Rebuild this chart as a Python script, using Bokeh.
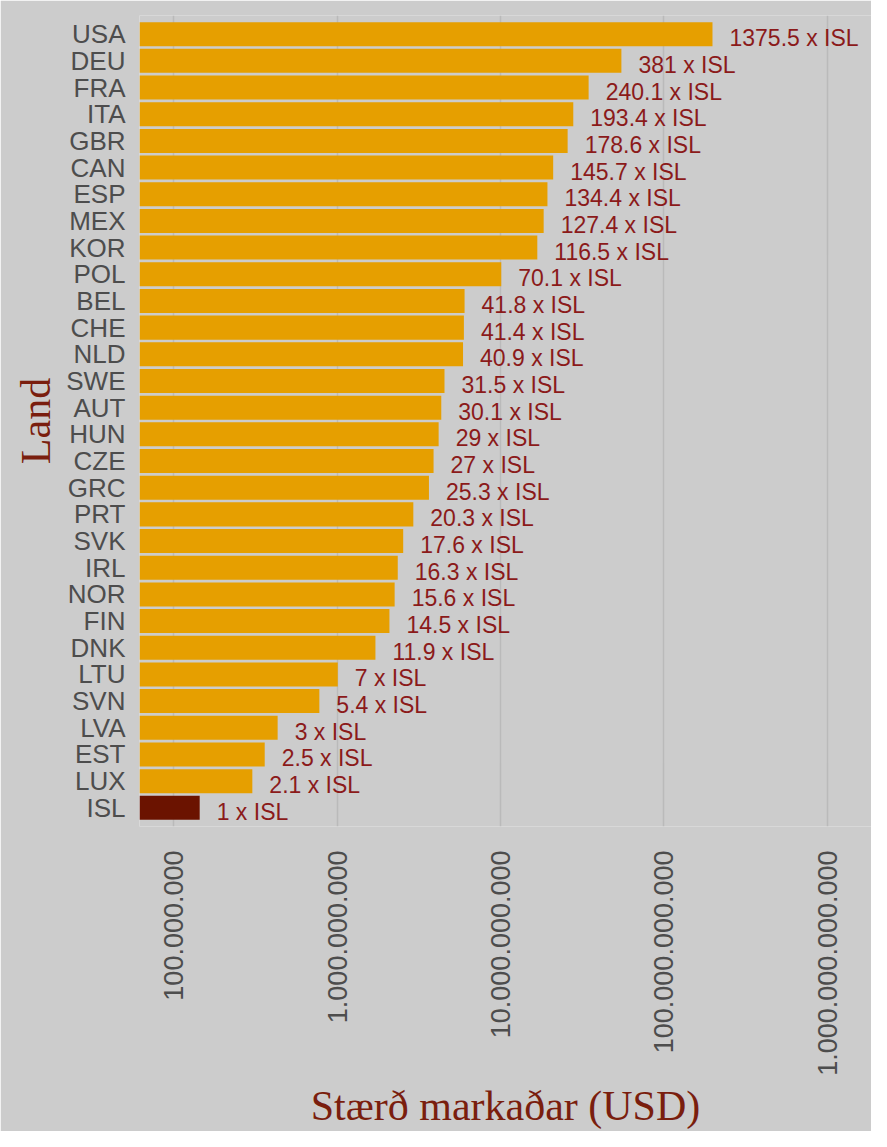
import math
from bokeh.plotting import figure
from bokeh.models import Range1d, FactorRange, ColumnDataSource, FixedTicker, CustomJSTickFormatter
from bokeh.core.properties import value
from bokeh.embed import file_html
from bokeh.resources import INLINE

# ---- data ----
countries = ["USA", "DEU", "FRA", "ITA", "GBR", "CAN", "ESP", "MEX", "KOR", "POL",
             "BEL", "CHE", "NLD", "SWE", "AUT", "HUN", "CZE", "GRC", "PRT", "SVK",
             "IRL", "NOR", "FIN", "DNK", "LTU", "SVN", "LVA", "EST", "LUX", "ISL"]
ratios = [1375.5, 381, 240.1, 193.4, 178.6, 145.7, 134.4, 127.4, 116.5, 70.1,
          41.8, 41.4, 40.9, 31.5, 30.1, 29, 27, 25.3, 20.3, 17.6,
          16.3, 15.6, 14.5, 11.9, 7, 5.4, 3, 2.5, 2.1, 1]
isl_market_usd = 1.44e8          # size of the Icelandic market (USD)
x_ticks = [1e8, 1e9, 1e10, 1e11, 1e12]

# ---- derived ----
market = [r * isl_market_usd for r in ratios]
labels = [("%g" % r) + " x ISL" for r in ratios]
colors = ["#6B1300" if c == "ISL" else "#E69F00" for c in countries]

src = ColumnDataSource(dict(country=countries, value=market, label=labels, color=colors))

x_lo, x_hi = 10 ** 7.79, 10 ** 12.27

p = figure(width=871, height=1131,
           y_range=FactorRange(factors=countries[::-1], range_padding=0.2,
                               range_padding_units="absolute"),
           x_axis_type="log", x_range=Range1d(x_lo, x_hi),
           output_backend="svg", toolbar_location=None,
           min_border_left=139, min_border_top=15, min_border_right=0, min_border_bottom=0)

p.background_fill_color = "#CCCCCC"
p.border_fill_color = "#CCCCCC"
p.outline_line_color = None

p.hbar(y="country", left=x_lo, right="value", height=0.9, fill_color="color",
       line_color=None, source=src)
p.text(x="value", y="country", text="label", x_offset=17, y_offset=4,
       text_baseline="middle", text_align="left",
       text_font=value("Liberation Sans"), text_font_size="23px",
       text_color="#8B1A1A", source=src)

# grid
p.ygrid.grid_line_color = None
p.xgrid.grid_line_color = "#BABABA"
p.xgrid.grid_line_width = 1.5

# x axis
xa = p.xaxis[0]
xa.ticker = FixedTicker(ticks=x_ticks)
xa.formatter = CustomJSTickFormatter(
    code="return Math.round(tick).toString().replace(/\\B(?=(\\d{3})+(?!\\d))/g, '.');")
xa.major_label_orientation = math.pi / 2
xa.axis_label = "Stærð markaðar (USD)"

# y axis
ya = p.yaxis[0]
ya.axis_label = "Land"

for ax in (xa, ya):
    ax.axis_line_color = None
    ax.major_tick_line_color = None
    ax.minor_tick_line_color = None
    ax.major_tick_out = 0
    ax.major_tick_in = 0
    ax.minor_tick_out = 0
    ax.minor_tick_in = 0
    ax.major_label_text_font = "Liberation Sans"
    ax.major_label_text_color = "#4D4D4D"
    ax.axis_label_text_font = "Liberation Serif"
    ax.axis_label_text_font_style = "normal"
    ax.axis_label_text_font_size = "42px"
    ax.axis_label_text_color = "#7A1E0E"

xa.major_label_text_font_size = "27px"
xa.major_label_standoff = 24
xa.axis_label_standoff = 4
ya.major_label_text_font_size = "26px"
ya.major_label_standoff = 14
ya.axis_label_standoff = 4

open("out.html", "w").write(file_html(p, INLINE))
